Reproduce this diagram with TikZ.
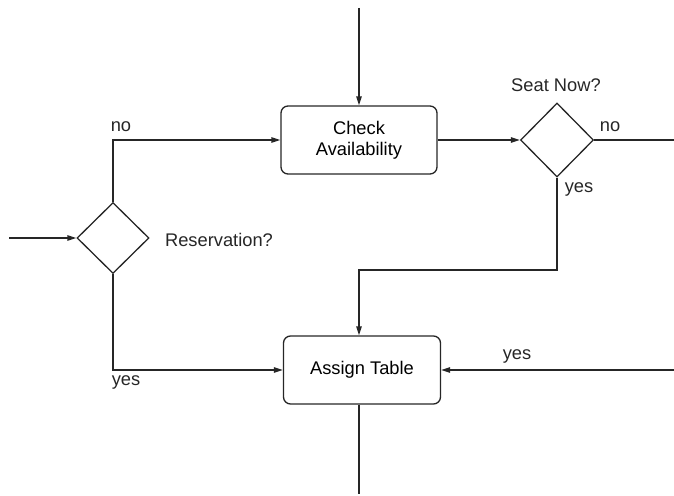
\documentclass[tikz,border=0pt]{standalone}
\usepackage{fontspec}
\setmainfont{Liberation Sans}
\usetikzlibrary{shapes.geometric,arrows.meta}
\begin{document}
\begin{tikzpicture}[x=1pt,y=-1pt,
  font=\fontsize{18.3}{21}\selectfont,
  line width=1.3pt,
  flow/.style={draw=black!85, line width=1.3pt},
  arr/.style={flow,-{Triangle[length=9pt,width=5.5pt]}},
  proc/.style={draw=black!85, line width=1.3pt, rounded corners=7pt, align=center, inner sep=0pt},
  decide/.style={draw=black!85, line width=1.3pt, diamond, inner sep=0pt, minimum width=72pt, minimum height=72pt},
  lbl/.style={inner sep=0pt, text=black!85}]
\useasboundingbox (0,0) rectangle (674,495);

% process boxes
\node[proc, minimum width=156pt, minimum height=68pt] (check) at (359,140) {Check\\Availability};
\node[proc, minimum width=157pt, minimum height=68pt] (assign) at (362,370) {Assign Table};

% decisions
\node[decide, minimum width=73pt, minimum height=74pt] (seat) at (557,140) {};
\node[decide, minimum width=72pt, minimum height=71pt] (resv) at (113,238) {};

% free ends
\coordinate (topin) at (359,8);
\coordinate (leftin) at (9,238);
\coordinate (rightin) at (674,370);
\coordinate (rightout) at (674,140);
\coordinate (botout) at (359,494);
\coordinate (merge) at (557,270);

% connectors
\draw[arr] (topin) -- (check.north -| topin);
\draw[arr] (check.east |- seat.west) -- (seat.west);
\draw[flow] (seat.east) -- (rightout);
\draw[arr] (seat.south) -- (merge) -- (merge -| topin) -- (assign.north -| topin);
\draw[arr] (leftin) -- (resv.west);
\draw[arr] (resv.north) |- (check.west |- seat.west);
\draw[arr] (resv.south) |- (assign.west);
\draw[arr] (rightin) -- (assign.east);
\draw[flow] (assign.south -| topin) -- (botout);

% labels
\node[lbl] (seatq) at (556,85) {Seat Now?};
\node[lbl] (seatno) at (610,127) {no};
\node[lbl] (seatyes) at (579,189) {yes};
\node[lbl] (resvq) at (219,240) {Reservation?};
\node[lbl] (resvno) at (121,127) {no};
\node[lbl] (resvyes) at (126,382) {yes};
\node[lbl] (rightyes) at (517,356) {yes};
\end{tikzpicture}
\end{document}
